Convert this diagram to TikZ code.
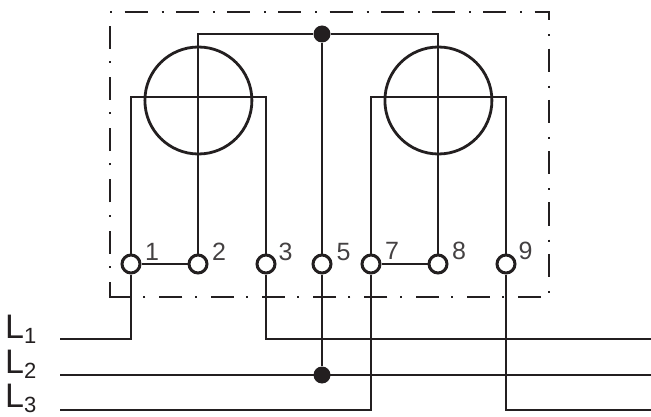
\documentclass[tikz,border=0pt]{standalone}
\usepackage{fontspec}
\setmainfont{Liberation Sans}
\usetikzlibrary{positioning}
\definecolor{ink}{RGB}{35,31,32}
\newcommand{\phasename}[1]{L\raisebox{-5.5pt}{\fontsize{22}{22}\selectfont #1}}
\tikzset{
    %Define style for terminals
    terminal/.style={
           circle,
           draw=ink, line width=3pt,
           fill=white,
           inner sep=0pt,
           minimum size=18pt},
    junction/.style={
           circle,
           fill=ink,
           inner sep=0pt,
           minimum size=17pt},
    meter/.style={
           circle,
           draw=ink, line width=2.8pt,
           inner sep=0pt,
           minimum size=107pt},
    numlabel/.style={
           font=\fontsize{25}{25}\selectfont,
           text=ink!85!white,
           inner sep=0pt},
    phase/.style={
           anchor=base west,
           font=\fontsize{34}{34}\selectfont,
           text=ink,
           inner sep=0pt},
    % Define line styles
    wire/.style={
           draw=ink, line width=2.4pt},
    frameline/.style={
           draw=ink, line width=2.4pt,
           dash pattern=on 23pt off 14pt on 2pt off 12.25pt}
}
\begin{document}
\begin{tikzpicture}[x=1pt,y=1pt,node distance=20pt,on grid]
\useasboundingbox (0,0) rectangle (651,-417);
% dashed housing
\coordinate (frameA) at (110,-282);
\coordinate (frameB) at (110,-12);
\coordinate (frameC) at (549,-12);
\coordinate (frameD) at (549,-297);
\coordinate (frameE) at (131,-297);
\coordinate (frameF) at (110,-297);
\draw[frameline,dash phase=23pt] (frameA) -- (frameB) -- (frameC) -- (frameD) -- (frameE);
\draw[wire] (frameE) -- (frameF) -- (frameA);
\node[terminal](t1) at (131,-264){};
\node[terminal, right=67pt of t1](t2){};
\node[terminal, right=68pt of t2](t3){};
\node[terminal, right=56pt of t3](t5){};
\node[terminal, right=49pt of t5](t7){};
\node[terminal, right=67pt of t7](t8){};
\node[terminal, right=68pt of t8](t9){};
\node[numlabel, above right=12pt and 21pt of t1]{1};
\node[numlabel, above right=12pt and 21pt of t2]{2};
\node[numlabel, above right=12pt and 19.5pt of t3]{3};
\node[numlabel, above right=12pt and 21.5pt of t5]{5};
\node[numlabel, above right=13pt and 21pt of t7]{7};
\node[numlabel, above right=13pt and 21pt of t8]{8};
\node[numlabel, above right=13pt and 19.5pt of t9]{9};
\node[meter](meterA) at (198.4,-100.5){};
\node[meter](meterB) at (438.4,-100.5){};
\coordinate (crossA) at (198,-97);
\coordinate (crossB) at (438,-97);
\node[junction](dotTop) at (322,-34){};
\node[junction](dotBot) at (322,-375){};
\coordinate (L1start) at (60,-339);
\coordinate (L1end) at (651,-339);
\coordinate (L2start) at (60,-375);
\coordinate (L2end) at (651,-375);
\coordinate (L3start) at (60,-410);
\coordinate (L3end) at (651,-410);
\node[phase] at (5,-338){\phasename{1}};
\node[phase] at (5,-373){\phasename{2}};
\node[phase] at (5,-407){\phasename{3}};
\path[wire]
    (t1) |- (crossA) -| (t3)
    (t7) |- (crossB) -| (t9)
    (t2) |- (dotTop) -| (t8)
    (t1) -- (t2)
    (t7) -- (t8)
    (dotTop) -- (t5)
    (t5) -- (dotBot)
    (L1start) -| (t1)
    (t3) |- (L1end)
    (L2start) -- (L2end)
    (L3start) -| (t7)
    (t9) |- (L3end);
\end{tikzpicture}
\end{document}
